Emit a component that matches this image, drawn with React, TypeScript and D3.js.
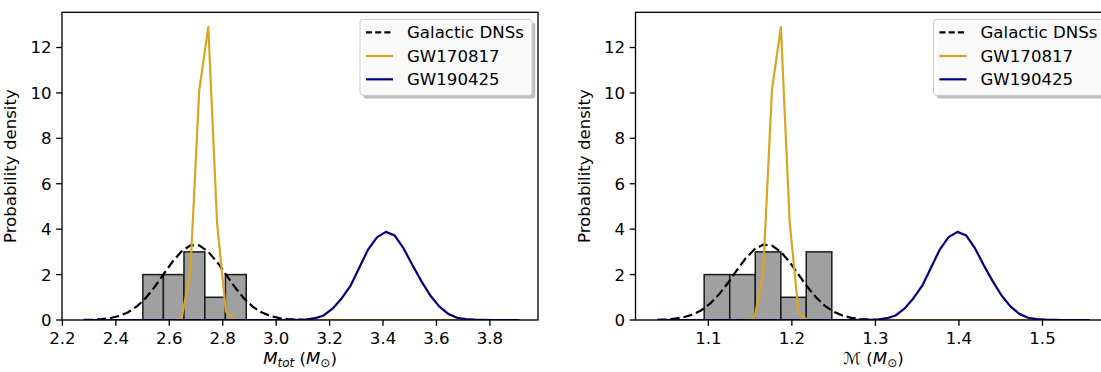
import React from "react";
import * as d3 from "d3";

// ---------- DATA ----------
const gridTot = [2.280, 2.313, 2.347, 2.380, 2.413, 2.446, 2.480, 2.513, 2.546, 2.579,
  2.613, 2.646, 2.679, 2.712, 2.746, 2.779, 2.812, 2.846, 2.879, 2.912,
  2.945, 2.979, 3.012, 3.045, 3.078, 3.112, 3.145, 3.178, 3.211, 3.245,
  3.278, 3.311, 3.344, 3.378, 3.411, 3.444, 3.477, 3.511, 3.544, 3.577,
  3.610, 3.644, 3.677, 3.710, 3.743, 3.777, 3.810, 3.843, 3.876, 3.910];

const dnsTot = [0.006, 0.016, 0.040, 0.088, 0.181, 0.343, 0.610, 0.984, 1.466, 2.019,
  2.581, 3.023, 3.290, 3.285, 3.001, 2.550, 2.002, 1.434, 0.958, 0.591,
  0.337, 0.173, 0.084, 0.038, 0.016, 0.006, 0.002, 0, 0, 0,
  0, 0, 0, 0, 0, 0, 0, 0, 0, 0,
  0, 0, 0, 0, 0, 0, 0, 0, 0, 0];

const gw170817Tot = [0, 0, 0, 0, 0, 0, 0, 0, 0, 0,
  0, 0.05, 2.15, 10.1, 12.9, 4.25, 0.37, 0, 0, 0,
  0, 0, 0, 0, 0, 0, 0, 0, 0, 0,
  0, 0, 0, 0, 0, 0, 0, 0, 0, 0,
  0, 0, 0, 0, 0, 0, 0, 0, 0, 0];

const gw190425Tot = [0, 0, 0, 0, 0, 0, 0, 0, 0, 0,
  0, 0, 0, 0, 0, 0, 0, 0, 0, 0,
  0, 0, 0, 0.003, 0.008, 0.02, 0.08, 0.2, 0.5, 0.95,
  1.5, 2.3, 3.1, 3.65, 3.88, 3.72, 3.15, 2.4, 1.7, 1.08,
  0.6, 0.27, 0.1, 0.04, 0.015, 0.005, 0, 0, 0, 0];

const histEdgesTot = [2.501, 2.578, 2.655, 2.733, 2.810, 2.888];
const histHeightsTot = [2, 2, 3, 1, 2];

const gridChirp = [1.0388, 1.0494, 1.0599, 1.0705, 1.0811, 1.0917, 1.1022, 1.1128, 1.1234, 1.1339,
  1.1445, 1.1551, 1.1656, 1.1762, 1.1868, 1.1974, 1.2079, 1.2185, 1.2291, 1.2396,
  1.2502, 1.2608, 1.2713, 1.2819, 1.2925, 1.3031, 1.3136, 1.3242, 1.3348, 1.3453,
  1.3559, 1.3665, 1.3770, 1.3876, 1.3982, 1.4088, 1.4193, 1.4299, 1.4405, 1.4510,
  1.4616, 1.4722, 1.4827, 1.4933, 1.5039, 1.5145, 1.5250, 1.5356, 1.5462, 1.5567];

const dnsChirp = [0.010, 0.025, 0.058, 0.122, 0.238, 0.431, 0.724, 1.129, 1.629, 2.181,
  2.705, 3.111, 3.315, 3.275, 2.999, 2.546, 2.004, 1.461, 0.988, 0.619,
  0.359, 0.193, 0.097, 0.045, 0.019, 0.008, 0.003, 0, 0, 0,
  0, 0, 0, 0, 0, 0, 0, 0, 0, 0,
  0, 0, 0, 0, 0, 0, 0, 0, 0, 0];

const gw170817Chirp = [0, 0, 0, 0, 0, 0, 0, 0, 0, 0,
  0, 0.05, 2.1, 10.15, 12.9, 4.3, 0.35, 0, 0, 0,
  0, 0, 0, 0, 0, 0, 0, 0, 0, 0,
  0, 0, 0, 0, 0, 0, 0, 0, 0, 0,
  0, 0, 0, 0, 0, 0, 0, 0, 0, 0];

const gw190425Chirp = [0, 0, 0, 0, 0, 0, 0, 0, 0, 0,
  0, 0, 0, 0, 0, 0, 0, 0, 0, 0,
  0, 0, 0, 0.003, 0.008, 0.02, 0.08, 0.2, 0.5, 0.95,
  1.5, 2.3, 3.1, 3.65, 3.88, 3.72, 3.15, 2.4, 1.7, 1.08,
  0.6, 0.27, 0.1, 0.04, 0.015, 0.005, 0, 0, 0, 0];

const histEdgesChirp = [1.095, 1.1256, 1.1562, 1.1868, 1.2172, 1.2478];
const histHeightsChirp = [2, 2, 3, 1, 3];

const xTicksTot = [2.2, 2.4, 2.6, 2.8, 3.0, 3.2, 3.4, 3.6, 3.8];
const xTicksChirp = [1.1, 1.2, 1.3, 1.4, 1.5];
const yTicks = [0, 2, 4, 6, 8, 10, 12];
const legendLabels = ["Galactic DNSs", "GW170817", "GW190425"];
const yLabel = "Probability density";

// ---------- STYLE ----------
const FONT = "DejaVu Sans";
const FS = 16.6;
const ORANGE = "#DAA520";
const NAVY = "#000080";
const TOP = 12.3;
const BOTTOM = 320;
const W = 476;

type PanelProps = {
  left: number;
  xDomain: [number, number];
  grid: number[];
  dns: number[];
  gwA: number[];
  gwB: number[];
  edges: number[];
  heights: number[];
  xTicks: number[];
  tickFmt: (v: number) => string;
  xLabel: React.ReactNode;
  clipId: string;
};

function Panel(p: PanelProps) {
  const x = d3.scaleLinear().domain(p.xDomain).range([p.left, p.left + W]);
  const y = d3.scaleLinear().domain([0, 13.55]).range([BOTTOM, TOP]);
  const mk = (vals: number[]) =>
    d3.line<number>().x((_, i) => x(p.grid[i])).y((v) => y(v))(vals) || "";
  const right = p.left + W;
  const lgW = 172;
  const lgH = 76;
  const lgX = right - 6 - lgW;
  const lgY = TOP + 7;
  const rowY = [lgY + 13, lgY + 36.7, lgY + 60];
  return (
    <g>
      <defs>
        <clipPath id={p.clipId}>
          <rect x={p.left} y={TOP} width={W} height={BOTTOM - TOP} />
        </clipPath>
      </defs>
      <g clipPath={`url(#${p.clipId})`}>
        {p.heights.map((h, i) => (
          <rect
            key={i}
            x={x(p.edges[i])}
            y={y(h)}
            width={x(p.edges[i + 1]) - x(p.edges[i])}
            height={y(0) - y(h)}
            fill="#a0a0a0"
            stroke="#1a1a1a"
            strokeWidth={1.5}
          />
        ))}
        <path d={mk(p.dns)} fill="none" stroke="#000" strokeWidth={2.2} strokeDasharray="9.2,4" />
        <path d={mk(p.gwA)} fill="none" stroke={ORANGE} strokeWidth={2.2} strokeLinejoin="round" />
        <path d={mk(p.gwB)} fill="none" stroke={NAVY} strokeWidth={2.2} strokeLinejoin="round" />
      </g>
      {/* spines */}
      <rect x={p.left} y={TOP} width={W} height={BOTTOM - TOP} fill="none" stroke="#000" strokeWidth={1.33} />
      {/* x ticks */}
      {p.xTicks.map((t) => (
        <g key={t}>
          <line x1={x(t)} x2={x(t)} y1={BOTTOM} y2={BOTTOM + 5.8} stroke="#000" strokeWidth={1.33} />
          <text x={x(t)} y={BOTTOM + 23.5} textAnchor="middle" fontFamily={FONT} fontSize={FS} fill="#000">
            {p.tickFmt(t)}
          </text>
        </g>
      ))}
      {/* y ticks */}
      {yTicks.map((t) => (
        <g key={t}>
          <line x1={p.left - 5.8} x2={p.left} y1={y(t)} y2={y(t)} stroke="#000" strokeWidth={1.33} />
          <text x={p.left - 10.5} y={y(t) + 6} textAnchor="end" fontFamily={FONT} fontSize={FS} fill="#000">
            {t}
          </text>
        </g>
      ))}
      <text
        transform={`translate(${p.left - 46},${(TOP + BOTTOM) / 2}) rotate(-90)`}
        textAnchor="middle"
        fontFamily={FONT}
        fontSize={FS}
        fill="#000"
      >
        {yLabel}
      </text>
      <text x={p.left + W / 2} y={364} textAnchor="middle" fontFamily={FONT} fontSize={FS} fill="#000">
        {p.xLabel}
      </text>
      {/* legend */}
      <rect x={lgX + 3.3} y={lgY + 3.3} width={lgW} height={lgH} rx={3} fill="#808080" opacity={0.5} />
      <rect x={lgX} y={lgY} width={lgW} height={lgH} rx={3} fill="#fff" fillOpacity={0.9} stroke="#cccccc" strokeWidth={1} />
      {legendLabels.map((lab, i) => (
        <g key={lab}>
          <line
            x1={lgX + 6}
            x2={lgX + 33}
            y1={rowY[i]}
            y2={rowY[i]}
            stroke={i === 0 ? "#000" : i === 1 ? ORANGE : NAVY}
            strokeWidth={2.2}
            strokeDasharray={i === 0 ? "6,3.2" : undefined}
          />
          <text x={lgX + 47} y={rowY[i] + 6} fontFamily={FONT} fontSize={FS} fill="#000">
            {lab}
          </text>
        </g>
      ))}
    </g>
  );
}

export default function App() {
  const fmt1 = (v: number) => v.toFixed(1);
  const labTot = (
    <>
      <tspan fontStyle="italic">M</tspan>
      <tspan fontStyle="italic" fontSize={12} dy={3}>tot</tspan>
      <tspan dy={-3}> (</tspan>
      <tspan fontStyle="italic">M</tspan>
      <tspan fontSize={12} dy={3}>⊙</tspan>
      <tspan dy={-3}>)</tspan>
    </>
  );
  const labChirp = (
    <>
      <tspan>ℳ (</tspan>
      <tspan fontStyle="italic">M</tspan>
      <tspan fontSize={12} dy={3}>⊙</tspan>
      <tspan dy={-3}>)</tspan>
    </>
  );
  return (
    <svg
      width={1101}
      height={372}
      style={{ position: "absolute", left: 0, top: 0, background: "#fff" }}
    >
      <rect x={0} y={0} width={1101} height={372} fill="#fff" />
      <Panel
        left={62}
        xDomain={[2.1985, 3.98]}
        grid={gridTot}
        dns={dnsTot}
        gwA={gw170817Tot}
        gwB={gw190425Tot}
        edges={histEdgesTot}
        heights={histHeightsTot}
        xTicks={xTicksTot}
        tickFmt={fmt1}
        xLabel={labTot}
        clipId="clipL"
      />
      <Panel
        left={635.5}
        xDomain={[1.0128, 1.5826]}
        grid={gridChirp}
        dns={dnsChirp}
        gwA={gw170817Chirp}
        gwB={gw190425Chirp}
        edges={histEdgesChirp}
        heights={histHeightsChirp}
        xTicks={xTicksChirp}
        tickFmt={fmt1}
        xLabel={labChirp}
        clipId="clipR"
      />
    </svg>
  );
}
